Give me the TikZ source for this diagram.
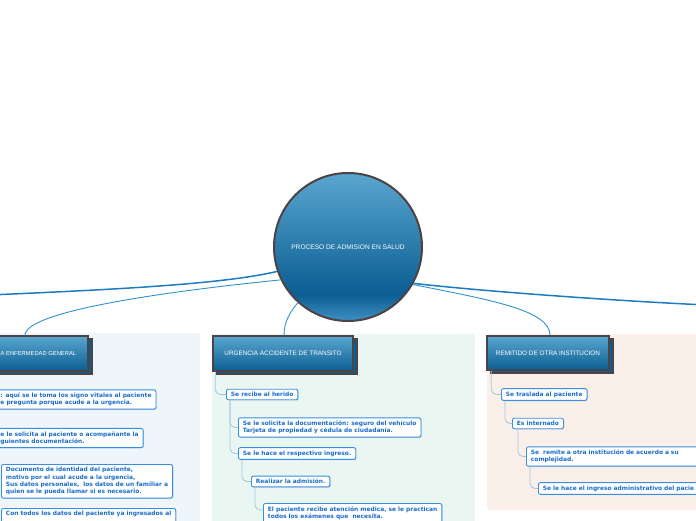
\documentclass[tikz,border=0pt]{standalone}
\usepackage{fontspec}
\usetikzlibrary{shadows}
\newfontfamily\hdrfont{Liberation Sans}
\newfontfamily\boxfont{DejaVu Sans}
\definecolor{hublight}{HTML}{5AA6D0}
\definecolor{hubdark}{HTML}{0B5E92}
\definecolor{hublow}{HTML}{3F8FC2}
\definecolor{rimgray}{HTML}{4D4244}
\definecolor{wireblue}{HTML}{1B7CC0}
\definecolor{stemblue}{HTML}{3090D0}
\definecolor{twigblue}{HTML}{9CCAE0}
\definecolor{leafline}{HTML}{3A8EE2}
\definecolor{leaftext}{HTML}{1C6DCB}
\definecolor{paneblue}{HTML}{EEF6FC}
\definecolor{panegreen}{HTML}{E9F6F2}
\definecolor{panepeach}{HTML}{FBEFE9}
\pgfdeclareverticalshading{hubshade}{100bp}{color(0bp)=(hublow); color(25bp)=(hublow); color(34bp)=(hubdark); color(75bp)=(hublight); color(100bp)=(hublight)}
\tikzset{
  hub/.style={circle, draw=rimgray, line width=2pt, shading=hubshade, minimum size=148pt, inner sep=0pt, text=white, font=\hdrfont\fontsize{6.6}{7.5}\selectfont},
  head/.style={rectangle, draw=rimgray, line width=1.4pt, top color=hublight, bottom color=hubdark, text=white, font=\hdrfont\fontsize{6.4}{7.5}\selectfont,
    copy shadow={shadow xshift=4pt, shadow yshift=-3pt, draw=rimgray, fill=hubdark, opacity=1}},
  leaf/.style={rectangle, rounded corners=2pt, draw=leafline, line width=0.9pt, fill=white, text=leaftext, align=left, inner xsep=4.5pt, inner ysep=3pt,
    font=\boxfont\bfseries\fontsize{5.9}{7.3}\selectfont, drop shadow={shadow xshift=0.8pt, shadow yshift=-0.8pt, opacity=0.25}},
  wire/.style={draw=wireblue, line width=1.5pt},
  stem/.style={draw=stemblue, line width=0.9pt},
  twig/.style={draw=twigblue, line width=0.8pt, rounded corners=5pt}
}
\begin{document}
\begin{tikzpicture}[x=1pt, y=-1pt]
    \useasboundingbox (0,0) rectangle (696,520);
    \clip (0,0) rectangle (696,520);

    % Panels
    \fill[paneblue] (-5,333) rectangle (200,530);
    \fill[panegreen] (212,334) rectangle (475,530);
    \fill[panepeach, rounded corners=2pt] (487,334) rectangle (705,510);

    % Hub
    \node[hub] (hub) at (348,247) {PROCESO DE ADMISION EN SALUD};

    % Headers
    \node[head, anchor=west, minimum width=95pt, minimum height=35pt, inner xsep=12pt, align=left, font=\hdrfont\fontsize{5.8}{7}\selectfont] (hdlft) at (-12,353.5) {A ENFERMEDAD GENERAL\hfill};
    \node[head, minimum width=140pt, minimum height=35pt] (hdmid) at (283,353.5) {URGENCIA ACCIDENTE DE TRANSITO};
    \node[head, minimum width=122pt, minimum height=34pt] (hdrgt) at (548,353) {REMITIDO DE OTRA INSTITUCION};

    % Left leaves
    \node[leaf, anchor=west] (lft1) at (-4.5,399.5) {: aquí se le toma los signo vitales al paciente\\e pregunta porque acude a la urgencia.};
    \node[leaf, anchor=west] (lft2) at (-4.5,438) {e le solicita al paciente o acompañante la\\guientes documentación.};
    \node[leaf, anchor=north west] (lft3) at (1,464) {Documento de identidad del paciente,\\motivo por el cual acude a la urgencia,\\Sus datos personales, \ los datos de un familiar a\\quien se le pueda llamar si es necesario.};
    \node[leaf, anchor=north west, text depth=20pt] (lft4) at (1,508) {Con todos los datos del paciente ya ingresados al};

    % Middle leaves
    \node[leaf, anchor=west] (mid1) at (226,394.5) {Se recibe al herido};
    \node[leaf, anchor=west] (mid2) at (238,427.5) {Se le solicita la documentación: seguro del vehículo\\Tarjeta de propiedad y cédula de ciudadanía.};
    \node[leaf, anchor=west] (mid3) at (238,453.5) {Se le hace el respectivo ingreso.};
    \node[leaf, anchor=west] (mid4) at (251,481.5) {Realizar la admisión.};
    \node[leaf, anchor=north west, text depth=12pt] (mid5) at (263,503) {El paciente recibe atención medica, se le practican\\todos los exámenes que \ necesita.};

    % Right leaves
    \node[leaf, anchor=west] (rgt1) at (501,394.5) {Se traslada al paciente};
    \node[leaf, anchor=west] (rgt2) at (512,423.5) {Es internado};
    \node[leaf, anchor=west, text width=185pt] (rgt3) at (526,456.5) {Se \ remite a otra institución de acuerdo a su\\complejidad.};
    \node[leaf, anchor=west, text width=185pt] (rgt4) at (538,488.5) {Se le hace el ingreso administrativo del pacie};

    % Wires from the hub
    \coordinate (offl) at (-10,295);
    \coordinate (offr) at (706,305);
    \draw[wire] (hub.199) .. controls (220,285) and (100,290) .. (offl);
    \draw[wire] (hub.331) .. controls (470,290) and (600,300) .. (offr);
    \draw[stem] (hub.206) .. controls (180,290) and (25,310) .. (25,0 |- hdlft.north);
    \draw[stem] (hub.228) .. controls (290,312) and (284,322) .. (284,0 |- hdmid.north);
    \draw[stem] (hub.330) .. controls (490,300) and (550,310) .. (550,0 |- hdrgt.north);

    % Twigs
    \draw[twig] ([xshift=3pt]hdmid.south west) |- (mid1.west);
    \draw[twig] ([xshift=4pt]mid1.south west) |- (mid2.west);
    \draw[twig] ([xshift=4pt]mid1.south west) |- (mid3.west);
    \draw[twig] ([xshift=4pt]mid3.south west) |- (mid4.west);
    \draw[twig] ([xshift=4pt]mid4.south west) |- ([yshift=-7pt]mid5.north west);
    \draw[twig] ([xshift=5pt]hdrgt.south west) |- (rgt1.west);
    \draw[twig] ([xshift=4pt]rgt1.south west) |- (rgt2.west);
    \draw[twig] ([xshift=6pt]rgt2.south west) |- (rgt3.west);
    \draw[twig] ([xshift=4pt]rgt3.south west) |- (rgt4.west);
\end{tikzpicture}
\end{document}
